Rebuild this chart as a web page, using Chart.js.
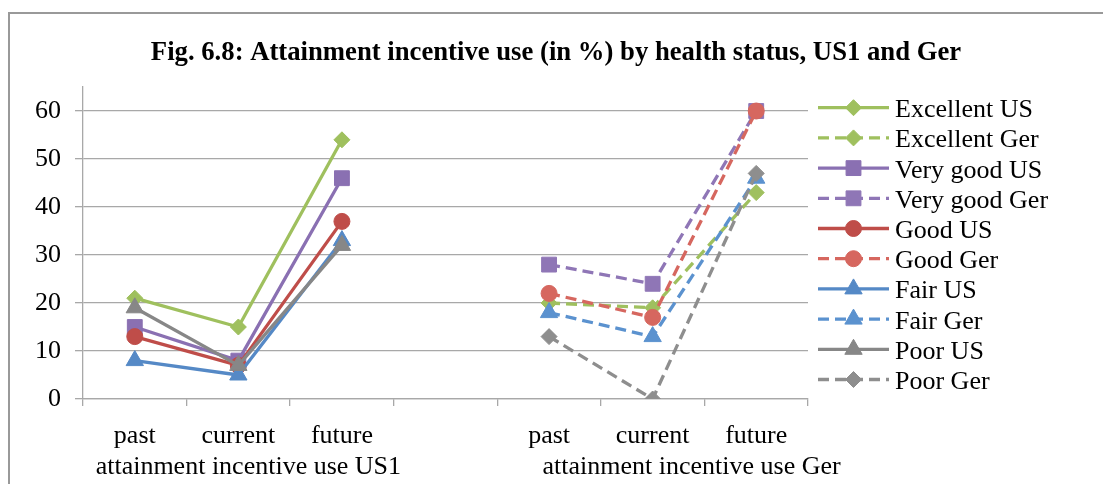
<!DOCTYPE html>
<html>
<head>
<meta charset="utf-8">
<script src="https://cdn.jsdelivr.net/npm/chart.js@4.4.0/dist/chart.umd.min.js"></script>
<style>
  html, body { margin: 0; padding: 0; background: #fff; }
  canvas { display: block; }
</style>
</head>
<body>
<canvas id="chart" width="1103" height="484"></canvas>
<script>
// Categories: three periods per country, with an empty slot separating the two groups
const categories = ['past', 'current', 'future', '', 'past', 'current', 'future'];
const groupLabels = ['attainment incentive use US1', 'attainment incentive use Ger'];
const yTickValues = [0, 10, 20, 30, 40, 50, 60];
const titleText = 'Fig. 6.8: Attainment incentive use (in %) by health status, US1 and Ger';

// Series values (%), US in the first group, Germany in the second
const excellentUS  = [21, 15, 54, null, null, null, null];
const excellentGer = [null, null, null, null, 20, 19, 43];
const veryGoodUS   = [15, 8, 46, null, null, null, null];
const veryGoodGer  = [null, null, null, null, 28, 24, 60];
const goodUS       = [13, 7, 37, null, null, null, null];
const goodGer      = [null, null, null, null, 22, 17, 60];
const fairUS       = [8, 5, 33, null, null, null, null];
const fairGer      = [null, null, null, null, 18, 13, 46];
const poorUS       = [19, 7, 32, null, null, null, null];
const poorGer      = [null, null, null, null, 13, 0, 47];

const FONT = '"Liberation Serif", "Times New Roman", serif';
const GRID = '#a8a8a8';
const DASH = [11, 6];

function series(label, data, color, style, radius, dashed) {
  return {
    label, data,
    borderColor: color, backgroundColor: color,
    pointBackgroundColor: color, pointBorderColor: color,
    borderWidth: 3.3, borderDash: dashed ? DASH : [],
    borderJoinStyle: 'round',
    pointStyle: style, pointRadius: radius, pointBorderWidth: 1,
    spanGaps: false, tension: 0, fill: false
  };
}

const datasets = [
  series('Excellent US',  excellentUS,  '#9fc05e', 'rectRot', 8, false),
  series('Excellent Ger', excellentGer, '#9fc05e', 'rectRot', 8, true),
  series('Very good US',  veryGoodUS,   '#8a70b2', 'rect', 10.5, false),
  series('Very good Ger', veryGoodGer,  '#8f76b6', 'rect', 10.5, true),
  series('Good US',       goodUS,       '#bf4d49', 'circle', 8, false),
  series('Good Ger',      goodGer,      '#d6675f', 'circle', 8, true),
  series('Fair US',       fairUS,       '#5589c6', 'triangle', 10, false),
  series('Fair Ger',      fairGer,      '#5b92cf', 'triangle', 10, true),
  series('Poor US',       poorUS,       '#878787', 'triangle', 10, false),
  series('Poor Ger',      poorGer,      '#8e8e8e', 'rectRot', 8, true)
];
// later series sit on top of earlier ones
datasets.forEach((d, i) => { d.order = datasets.length - i; });

const frameAndText = {
  id: 'frameAndText',
  beforeDraw(chart) {
    const ctx = chart.ctx;
    ctx.save();
    ctx.fillStyle = '#fff';
    ctx.fillRect(0, 0, chart.width, chart.height);
    ctx.strokeStyle = '#999';
    ctx.lineWidth = 2;
    ctx.strokeRect(9, 13, chart.width + 20, chart.height + 20);
    ctx.restore();
  },
  afterDraw(chart) {
    const ctx = chart.ctx;
    const x = chart.scales.x;
    ctx.save();
    // title
    ctx.fillStyle = '#000';
    ctx.font = 'bold 26.7px ' + FONT;
    ctx.textAlign = 'center';
    ctx.textBaseline = 'alphabetic';
    ctx.fillText(titleText, 556, 60);

    // group labels under the category labels
    ctx.font = '26px ' + FONT;
    const c1 = (x.getPixelForValue(0) + x.getPixelForValue(2)) / 2 + 10;
    const c2 = (x.getPixelForValue(4) + x.getPixelForValue(6)) / 2 + 39;
    ctx.fillText(groupLabels[0], c1, 474);
    ctx.fillText(groupLabels[1], c2, 474);

    // legend: line sample with marker, then the series name
    const lx0 = 818, lx1 = 889, tx = 895;
    chart.data.datasets.forEach((d, i) => {
      const y = 107.7 + 30.2 * i;
      ctx.strokeStyle = d.borderColor;
      ctx.fillStyle = d.borderColor;
      ctx.lineWidth = 3.3;
      ctx.setLineDash(d.borderDash.length ? d.borderDash : []);
      ctx.beginPath();
      ctx.moveTo(lx0, y);
      ctx.lineTo(lx1, y);
      ctx.stroke();
      ctx.setLineDash([]);
      ctx.lineWidth = 1;
      Chart.helpers.drawPoint(ctx, { pointStyle: d.pointStyle, rotation: 0, radius: d.pointRadius, borderWidth: 1 },
        (lx0 + lx1) / 2, y);
      ctx.fillStyle = '#000';
      ctx.textAlign = 'left';
      ctx.fillText(d.label, tx, y + 9.5);
    });
    ctx.restore();
  }
};

new Chart(document.getElementById('chart'), {
  type: 'line',
  data: { labels: categories, datasets },
  options: {
    responsive: false,
    animation: false,
    layout: { padding: { top: 87, right: 295, bottom: 0, left: 0 } },
    plugins: { legend: { display: false }, title: { display: false }, tooltip: { enabled: false } },
    scales: {
      x: {
        type: 'category',
        offset: true,
        grid: { drawOnChartArea: false, drawTicks: true, tickLength: 7, color: GRID, lineWidth: 1.3, offset: true },
        border: { color: GRID, width: 1.3 },
        ticks: { font: { family: FONT, size: 26 }, color: '#000', padding: 15, maxRotation: 0, autoSkip: false },
        afterFit: (s) => { s.height = 85; }
      },
      y: {
        min: 0, max: 65,
        ticks: { stepSize: 10, font: { family: FONT, size: 26 }, color: '#000', padding: 14 },
        afterBuildTicks: (s) => { s.ticks = yTickValues.map(v => ({ value: v })); },
        grid: { color: GRID, lineWidth: 1.3, tickLength: 8, drawTicks: true },
        border: { color: GRID, width: 1.3 },
        afterFit: (s) => { s.width = 83; }
      }
    }
  },
  plugins: [frameAndText]
});
</script>
</body>
</html>
